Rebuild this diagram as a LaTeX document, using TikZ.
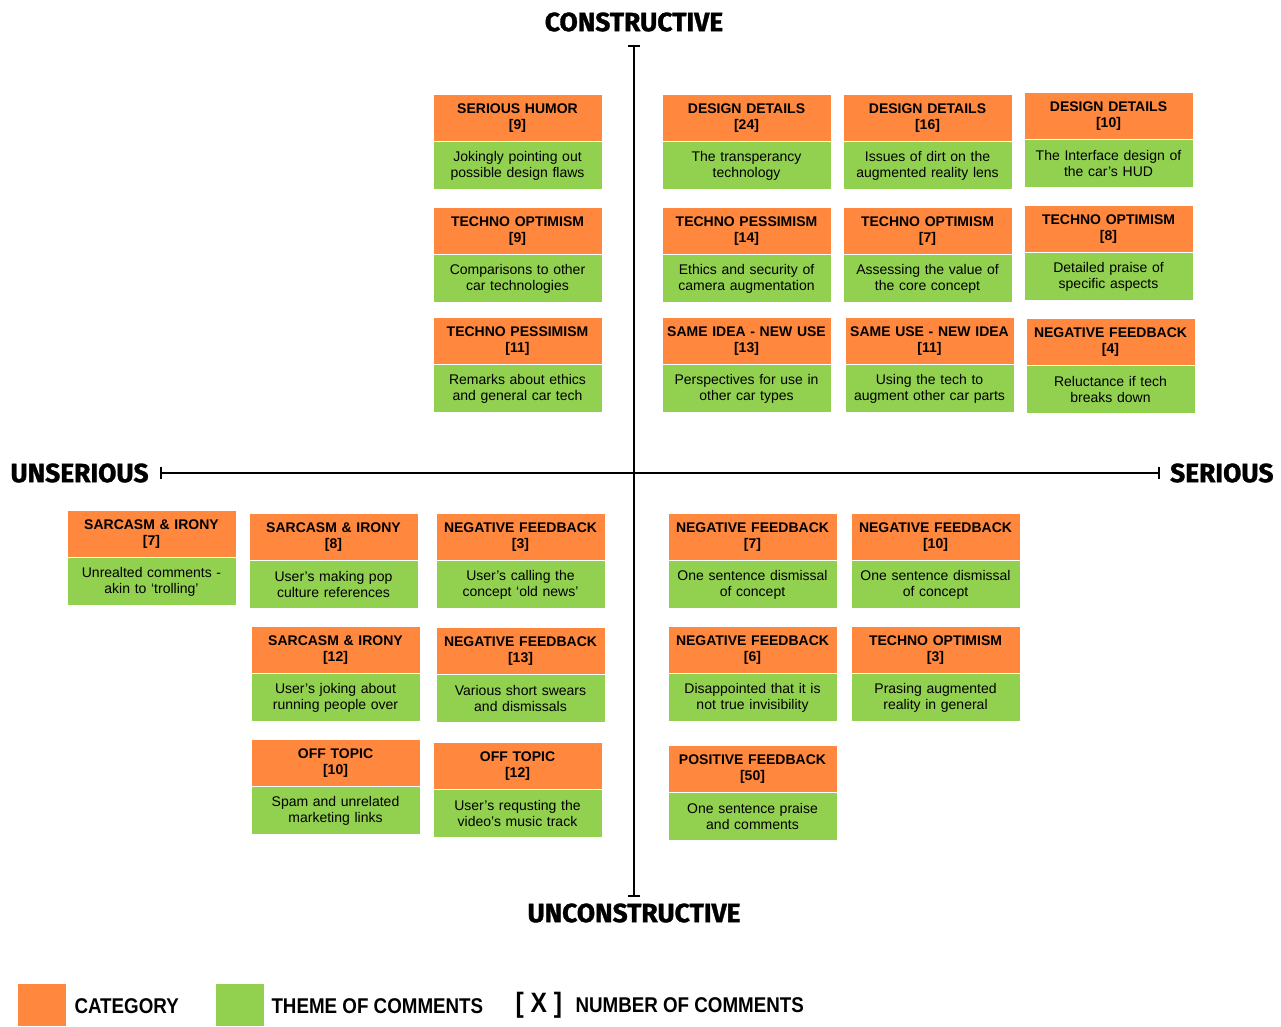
\documentclass[tikz,border=0pt]{standalone}
\usepackage{fontspec}
\setmainfont{Liberation Sans}
\newfontfamily\axisfont[BoldFeatures={FakeBold=1.2}]{Fira Sans}
\newfontfamily\legendfont[FakeStretch=0.88]{Liberation Sans}
\usetikzlibrary{positioning,arrows.meta}

\definecolor{catorange}{RGB}{255,135,62}
\definecolor{themegreen}{RGB}{146,208,80}

\tikzset{every picture/.style={line width=0.75pt}}
\tikzset{
  cathead/.style={fill=catorange, anchor=north west, inner sep=0pt, text width=126pt,
    minimum height=35pt, align=center, font=\fontsize{10.5}{12}\selectfont\bfseries},
  themebox/.style={fill=themegreen, inner sep=0pt, text width=126pt,
    minimum height=35pt, align=center, font=\fontsize{10.5}{12}\selectfont},
  axislabel/.style={inner sep=0pt, font=\axisfont\fontsize{19.8}{21}\selectfont\bfseries},
  axisline/.style={line width=1.6pt, {Bar[width=9pt]}-{Bar[width=9pt]}},
  legendtext/.style={anchor=west, inner sep=0pt, font=\legendfont\fontsize{16}{18}\selectfont\bfseries}
}

% one card: name, x, y, category, count, theme
\newcommand{\commentcard}[6]{%
  \node[cathead] (#1) at (#2,#3) {#4\\{[#5]}};
  \node[themebox, below=0pt of #1] (#1t) {#6};
}

\begin{document}
\begin{tikzpicture}[x=0.75pt,y=0.75pt,yscale=-1,xscale=1]
    \useasboundingbox (0,0) rectangle (1281,1026);

    % Axes
    \coordinate (ctop) at (634,45);
    \coordinate (cbot) at (634,897);
    \coordinate (sleft) at (160,473);
    \coordinate (sright) at (1160,473);
    \draw[axisline] (ctop) -- (cbot);
    \draw[axisline] (sleft) -- (sright);

    % Axis labels
    \node[axislabel] (constr) at (634,22) {CONSTRUCTIVE};
    \node[axislabel] (unconstr) at (634,913) {UNCONSTRUCTIVE};
    \node[axislabel, anchor=west] (unser) at (10,473) {UNSERIOUS};
    \node[axislabel, anchor=east] (ser) at (1274,473) {SERIOUS};

    % Constructive side
    \commentcard{sh}{433}{94}{SERIOUS HUMOR}{9}{Jokingly pointing out\\possible design flaws}
    \commentcard{toA}{433}{207}{TECHNO OPTIMISM}{9}{Comparisons to other\\car technologies}
    \commentcard{tpA}{433}{317}{TECHNO PESSIMISM}{11}{Remarks about ethics\\and general car tech}
    \commentcard{ddA}{662}{94}{DESIGN DETAILS}{24}{The transperancy\\technology}
    \commentcard{tpB}{662}{207}{TECHNO PESSIMISM}{14}{Ethics and security of\\camera augmentation}
    \commentcard{sinu}{662}{317}{SAME IDEA - NEW USE}{13}{Perspectives for use in\\other car types}
    \commentcard{ddB}{843}{94}{DESIGN DETAILS}{16}{Issues of dirt on the\\augmented reality lens}
    \commentcard{toB}{843}{207}{TECHNO OPTIMISM}{7}{Assessing the value of\\the core concept}
    \commentcard{suni}{845}{317}{SAME USE - NEW IDEA}{11}{Using the tech to\\augment other car parts}
    \commentcard{ddC}{1024}{92}{DESIGN DETAILS}{10}{The Interface design of\\the car’s HUD}
    \commentcard{toC}{1024}{205}{TECHNO OPTIMISM}{8}{Detailed praise of\\specific aspects}
    \commentcard{nfA}{1026}{318}{NEGATIVE FEEDBACK}{4}{Reluctance if tech\\breaks down}

    % Unconstructive side
    \commentcard{saA}{67}{510}{SARCASM \& IRONY}{7}{Unrealted comments -\\akin to ‘trolling’}
    \commentcard{saB}{249}{513}{SARCASM \& IRONY}{8}{User’s making pop\\culture references}
    \commentcard{nfB}{436}{513}{NEGATIVE FEEDBACK}{3}{User’s calling the\\concept ‘old news’}
    \commentcard{saC}{251}{626}{SARCASM \& IRONY}{12}{User’s joking about\\running people over}
    \commentcard{nfC}{436}{627}{NEGATIVE FEEDBACK}{13}{Various short swears\\and dismissals}
    \commentcard{otA}{251}{739}{OFF TOPIC}{10}{Spam and unrelated\\marketing links}
    \commentcard{otB}{433}{742}{OFF TOPIC}{12}{User’s requsting the\\video’s music track}
    \commentcard{nfD}{668}{513}{NEGATIVE FEEDBACK}{7}{One sentence dismissal\\of concept}
    \commentcard{nfE}{851}{513}{NEGATIVE FEEDBACK}{10}{One sentence dismissal\\of concept}
    \commentcard{nfF}{668}{626}{NEGATIVE FEEDBACK}{6}{Disappointed that it is\\not true invisibility}
    \commentcard{toD}{851}{626}{TECHNO OPTIMISM}{3}{Prasing augmented\\reality in general}
    \commentcard{pf}{668}{745}{POSITIVE FEEDBACK}{50}{One sentence praise\\and comments}

    % Legend
    \fill[catorange] (18,984) rectangle (66,1026);
    \fill[themegreen] (216,984) rectangle (264,1026);
    \node[legendtext] (lcat) at (74,1006) {CATEGORY};
    \node[legendtext] (ltheme) at (271,1006) {THEME OF COMMENTS};
    \node[legendtext, font=\legendfont\fontsize{21}{22}\selectfont\bfseries] (lx) at (515,1005) {[ X ]};
    \node[legendtext] (lnum) at (575,1005) {NUMBER OF COMMENTS};
\end{tikzpicture}
\end{document}
